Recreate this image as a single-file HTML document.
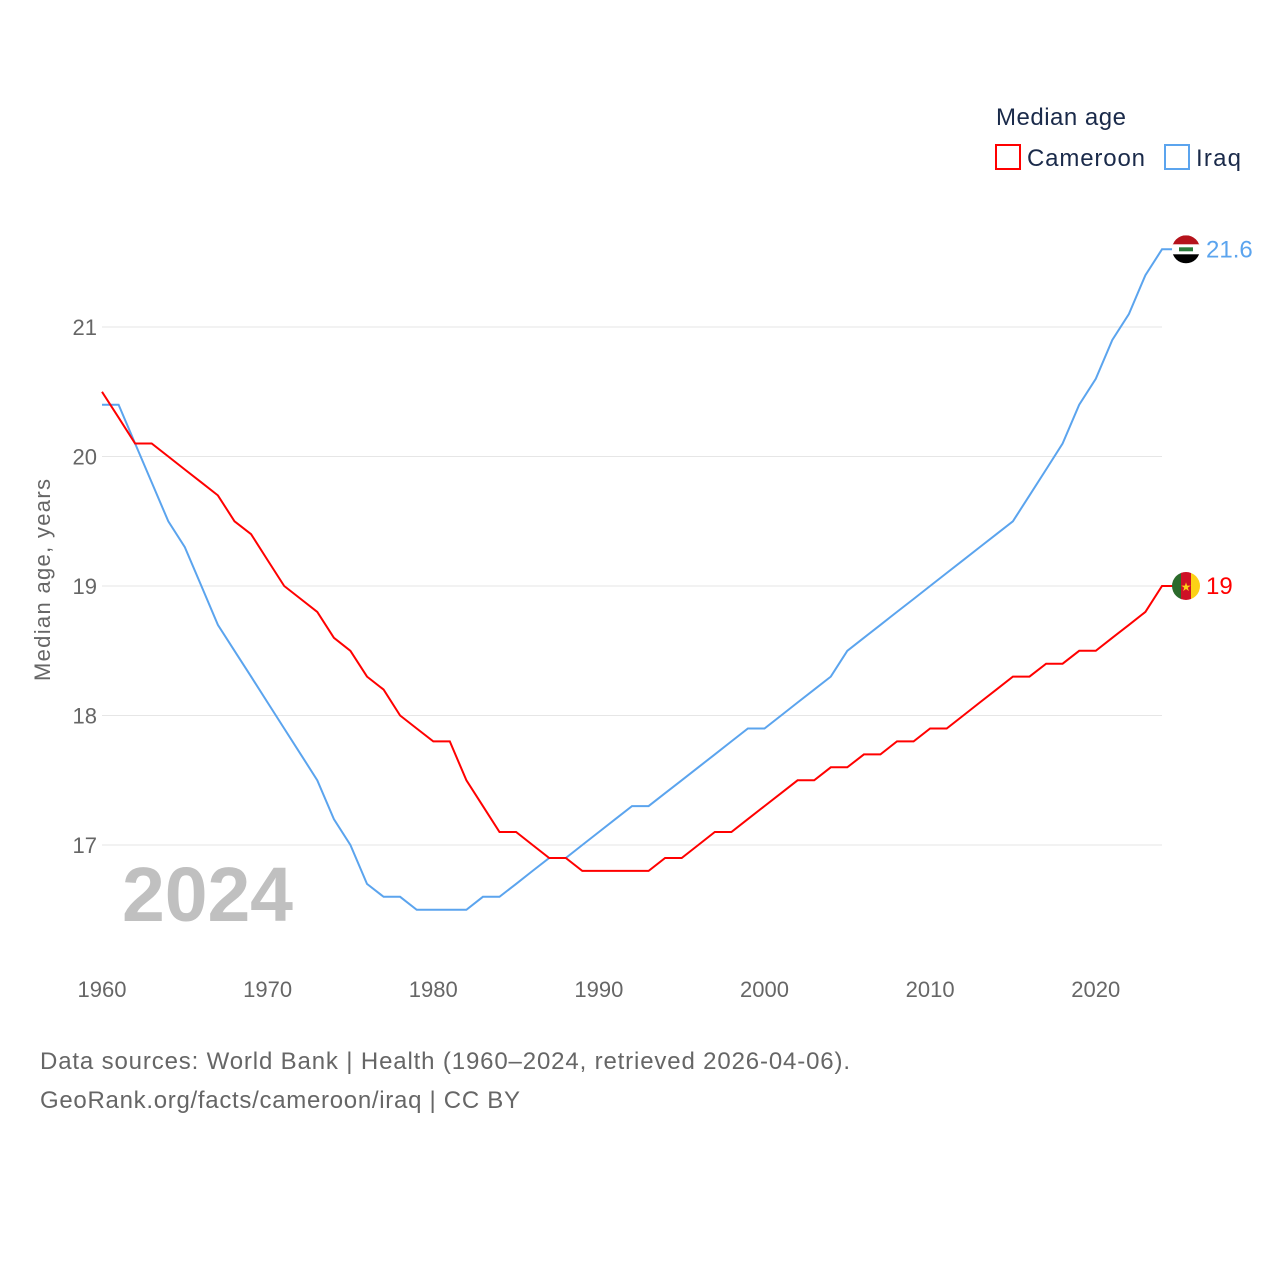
<!DOCTYPE html>
<html><head><meta charset="utf-8"><style>
body{margin:0;background:#fff;font-family:"Liberation Sans",sans-serif;}
svg text{font-family:"Liberation Sans",sans-serif;}
</style></head><body>
<svg id="chart" width="1280" height="1280" viewBox="0 0 1280 1280">
<defs>
<clipPath id="clipI"><circle id="ci" cx="0" cy="0" r="14"/></clipPath>
<clipPath id="clipC"><circle id="cc" cx="0" cy="0" r="14"/></clipPath>
</defs>
<g id="grid"></g>
<g id="xticks"></g>
<text x="50" y="580" transform="rotate(-90 50 580)" text-anchor="middle" font-size="22" fill="#666" textLength="202">Median age, years</text>
<text x="122" y="921" font-size="77" font-weight="bold" fill="#c0c0c0" textLength="171">2024</text>
<g id="lines"></g>
<g>
<text x="996" y="125" font-size="24" fill="#1a2a4a" textLength="130">Median age</text>
<rect x="996" y="145" width="24" height="24" fill="none" stroke="red" stroke-width="2"/>
<text x="1027" y="166" font-size="24" fill="#1a2a4a" textLength="118">Cameroon</text>
<rect x="1165" y="145" width="24" height="24" fill="none" stroke="#5ba4ee" stroke-width="2"/>
<text x="1196" y="166" font-size="24" fill="#1a2a4a" textLength="45">Iraq</text>
</g>
<text x="40" y="1069" font-size="24" fill="#666" textLength="810">Data sources: World Bank | Health (1960–2024, retrieved 2026-04-06).</text>
<text x="40" y="1108" font-size="24" fill="#666" textLength="480">GeoRank.org/facts/cameroon/iraq | CC BY</text>
</svg>
<script>
const years=[];for(let y=1960;y<=2024;y++)years.push(y);
const cameroon=[20.5,20.3,20.1,20.1,20.0,19.9,19.8,19.7,19.5,19.4,19.2,19.0,18.9,18.8,18.6,18.5,18.3,18.2,18.0,17.9,17.8,17.8,17.5,17.3,17.1,17.1,17.0,16.9,16.9,16.8,16.8,16.8,16.8,16.8,16.9,16.9,17.0,17.1,17.1,17.2,17.3,17.4,17.5,17.5,17.6,17.6,17.7,17.7,17.8,17.8,17.9,17.9,18.0,18.1,18.2,18.3,18.3,18.4,18.4,18.5,18.5,18.6,18.7,18.8,19.0];
const iraq=[20.4,20.4,20.1,19.8,19.5,19.3,19.0,18.7,18.5,18.3,18.1,17.9,17.7,17.5,17.2,17.0,16.7,16.6,16.6,16.5,16.5,16.5,16.5,16.6,16.6,16.7,16.8,16.9,16.9,17.0,17.1,17.2,17.3,17.3,17.4,17.5,17.6,17.7,17.8,17.9,17.9,18.0,18.1,18.2,18.3,18.5,18.6,18.7,18.8,18.9,19.0,19.1,19.2,19.3,19.4,19.5,19.7,19.9,20.1,20.4,20.6,20.9,21.1,21.4,21.6];
const yTicks=[17,18,19,20,21];
const xTicks=[1960,1970,1980,1990,2000,2010,2020];
const NS="http://www.w3.org/2000/svg";
const xS=y=>102+(y-1960)*(1162-102)/64;
const yS=v=>845-(v-17)*129.5;
function mk(tag,attrs,parent,txt){const e=document.createElementNS(NS,tag);for(const k in attrs)e.setAttribute(k,attrs[k]);if(txt!=null)e.textContent=txt;parent.appendChild(e);return e;}
const grid=document.getElementById('grid');
yTicks.forEach(t=>{
 const l=mk('line',{x1:102,x2:1162,y1:yS(t),y2:yS(t),stroke:'#e6e6e6','stroke-width':1},grid);
 
 
 const tx=mk('text',{x:97,y:yS(t)+8,'text-anchor':'end','font-size':22,fill:'#666'},grid,String(t));
 
 
});
const xt=document.getElementById('xticks');
xTicks.forEach(t=>{
 const tx=mk('text',{x:xS(t),y:997,'text-anchor':'middle','font-size':22,fill:'#666'},xt,String(t));
 
 
});
const lg=document.getElementById('lines');
function series(vals,color,name){
 const last=vals[vals.length-1];
 const cx=xS(2024)+24,cy=yS(last);
 const d=vals.map((v,i)=>(i?'L':'M')+xS(years[i]).toFixed(1)+' '+yS(v).toFixed(1)).join(' ')+' L'+(cx-10)+' '+cy.toFixed(1);
 const p=mk('path',{d:d,fill:'none',stroke:color,'stroke-width':2},lg);
 
 
 const lab=mk('text',{x:cx+20,y:cy+8,'font-size':24,fill:color},lg,String(last));
 
 
 return [cx,cy];
}
const [ix,iy]=series(iraq,'#5ba4ee','iraq');
const [cx,cy]=series(cameroon,'red','cameroon');
document.getElementById('ci').setAttribute('cx',ix);document.getElementById('ci').setAttribute('cy',iy);
document.getElementById('cc').setAttribute('cx',cx);document.getElementById('cc').setAttribute('cy',cy);
const fi=mk('g',{'clip-path':'url(#clipI)'},lg);


mk('rect',{x:ix-14,y:iy-14,width:28,height:10,fill:'#b5121b'},fi);
mk('rect',{x:ix-14,y:iy-5,width:28,height:10,fill:'#fff'},fi);
mk('rect',{x:ix-14,y:iy+5,width:28,height:10,fill:'#000'},fi);
mk('rect',{x:ix-7,y:iy-2,width:14,height:4,fill:'#2a7a3a'},fi);
const fc=mk('g',{'clip-path':'url(#clipC)'},lg);


mk('rect',{x:cx-14,y:cy-14,width:10,height:28,fill:'#2b6a2b'},fc);
mk('rect',{x:cx-5,y:cy-14,width:10,height:28,fill:'#ce1126'},fc);
mk('rect',{x:cx+5,y:cy-14,width:10,height:28,fill:'#fcd116'},fc);
mk('text',{x:cx,y:cy+5,'text-anchor':'middle','font-size':12,fill:'#fcd116'},fc,'★');
</script>
</body></html>
